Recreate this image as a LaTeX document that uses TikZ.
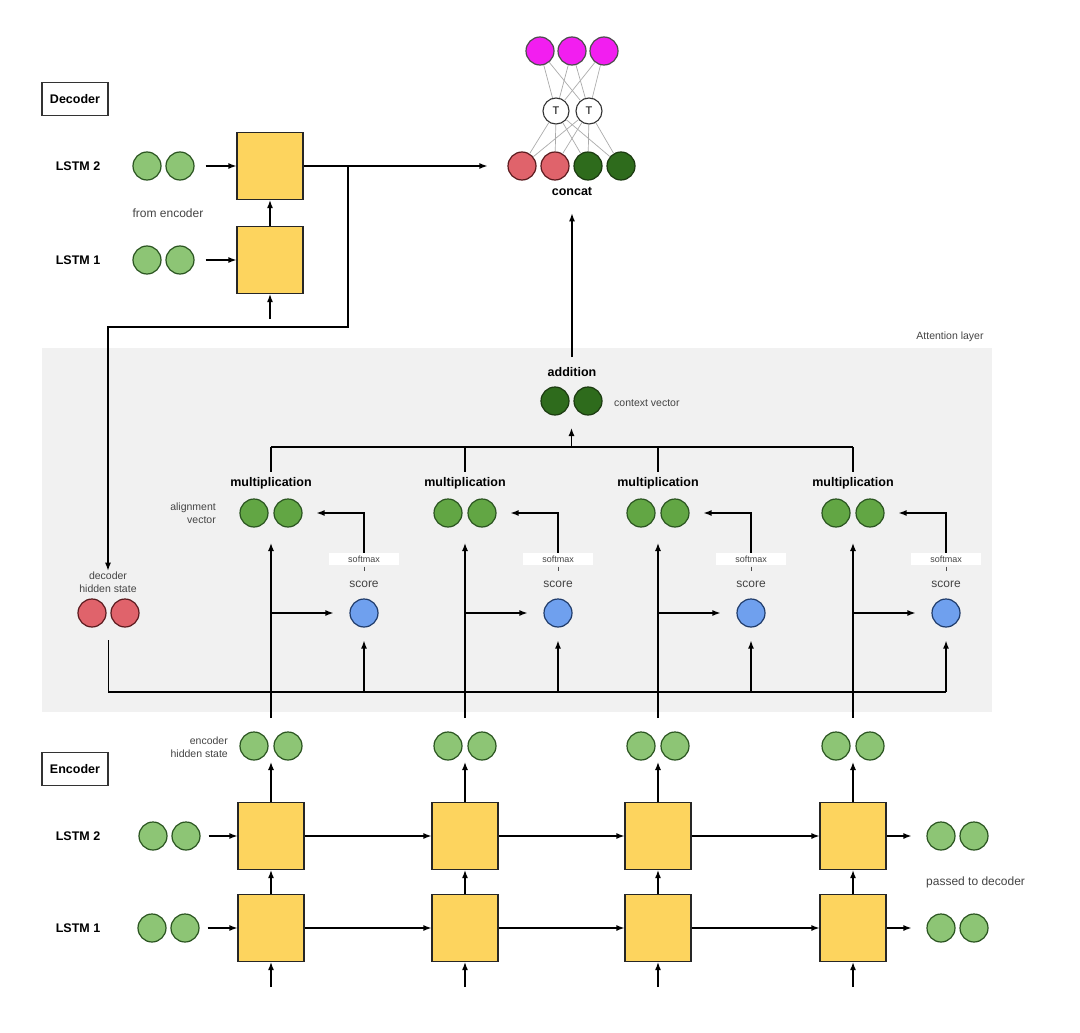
\documentclass[tikz,border=0pt]{standalone}
\usepackage{fontspec}
\setmainfont{Liberation Sans}
\usetikzlibrary{arrows.meta,calc}
\definecolor{boxyellow}{HTML}{FDD45E}
\definecolor{lgreen}{HTML}{8DC575}
\definecolor{lgreenb}{HTML}{2A5420}
\definecolor{mgreen}{HTML}{62A644}
\definecolor{dgreen}{HTML}{2E6B1C}
\definecolor{dgreenb}{HTML}{1B3A10}
\definecolor{cred}{HTML}{E0636B}
\definecolor{credb}{HTML}{5A1A1E}
\definecolor{cblue}{HTML}{6FA0EE}
\definecolor{cblueb}{HTML}{1F3B6A}
\definecolor{cmag}{HTML}{F21EF0}
\definecolor{attbg}{HTML}{F1F1F1}
\definecolor{txtgray}{HTML}{444444}
\begin{document}
\begin{tikzpicture}[x=1pt,y=-1pt,
  arr/.style={line width=1.3pt,-{Latex[length=8pt,width=6pt]}},
  ln/.style={line width=1.3pt},
  web/.style={line width=0.7pt,draw=gray!65},
  ybox/.style={draw=black!85,line width=1.2pt,fill=boxyellow,minimum width=66pt,minimum height=67pt,inner sep=0pt},
  crc/.style={circle,line width=1.2pt,minimum size=28pt,inner sep=0pt},
  gc/.style={crc,draw=lgreenb,fill=lgreen},
  mc/.style={crc,draw=lgreenb,fill=mgreen},
  dc/.style={crc,draw=dgreenb,fill=dgreen},
  rc/.style={crc,draw=credb,fill=cred},
  bc/.style={crc,draw=cblueb,fill=cblue},
  pc/.style={crc,draw=black!70,fill=cmag},
  tc/.style={circle,line width=1.1pt,draw=black!80,fill=white,minimum size=26pt,inner sep=0pt,font=\fontsize{11}{13}\selectfont},
  bold/.style={font=\bfseries\fontsize{12.5}{15}\selectfont,inner sep=1pt},
  mid/.style={font=\fontsize{12}{14}\selectfont,text=txtgray,inner sep=1pt},
  small/.style={font=\fontsize{10.5}{12.5}\selectfont,text=txtgray,inner sep=1pt},
  tiny/.style={font=\fontsize{9}{10}\selectfont,text=txtgray,fill=white,minimum width=70pt,minimum height=12pt,inner sep=0pt},
  titlebox/.style={draw=black!80,line width=1.1pt,minimum width=66pt,minimum height=33pt,inner sep=0pt,font=\bfseries\fontsize{12.5}{15}\selectfont}
]
\useasboundingbox (0,0) rectangle (1080,1033);
\fill[white] (0,0) rectangle (1080,1033);
% attention layer background
\fill[attbg] (42,348) rectangle (992,712);
\node[small] (attl) at (950,337) {Attention layer};

% ---------------- Decoder ----------------
\node[titlebox] (dec) at (75,99) {Decoder};
\node[bold] (dl2) at (78,166) {LSTM 2};
\node[bold] (dl1) at (78,260) {LSTM 1};
\node[gc] (dc2a) at (147,166) {};
\node[gc] (dc2b) at (180,166) {};
\node[gc] (dc1a) at (147,260) {};
\node[gc] (dc1b) at (180,260) {};
\node[mid] (fromenc) at (168,213) {from encoder};
\node[ybox] (db2) at (270,166) {};
\node[ybox] (db1) at (270,260) {};
\coordinate (din) at (270,319);
\draw[arr,shorten <=11pt] (dc2b.east) -- (db2.west);
\draw[arr,shorten <=11pt] (dc1b.east) -- (db1.west);
\draw[arr] (db1.north) -- (db2.south);
\draw[arr] (din) -- (db1.south);

% ---------------- Concat / output ----------------
\node[pc] (p1) at (540,51) {};
\node[pc] (p2) at (572,51) {};
\node[pc] (p3) at (604,51) {};
\node[tc] (t1) at (556,111) {T};
\node[tc] (t2) at (589,111) {T};
\node[rc] (c1) at (522,166) {};
\node[rc] (c2) at (555,166) {};
\node[dc] (c3) at (588,166) {};
\node[dc] (c4) at (621,166) {};
\foreach \p in {p1,p2,p3}{\foreach \t in {t1,t2}{\draw[web] (\p) -- (\t);}}
\foreach \t in {t1,t2}{\foreach \c in {c1,c2,c3,c4}{\draw[web] (\t) -- (\c);}}
\node[bold] (concat) at (572,191) {concat};
\draw[arr,shorten >=20pt] (db2.east) -- (c1.west);

% decoder hidden state path
\coordinate (br) at (348,166);
\coordinate (kink) at (108,327);
\node[small,align=center] (dhlbl) at (108,582) {decoder\\hidden state};
\node[rc] (dh1) at (92,613) {};
\node[rc] (dh2) at (125,613) {};
\coordinate (dhm) at ($(dh1)!0.5!(dh2)$);
\draw[arr] (br) |- (kink) -- (dhlbl.north);

% ---------------- Attention ----------------
\node[bold] (add) at (572,372) {addition};
\node[dc] (x1) at (555,401) {};
\node[dc] (x2) at (588,401) {};
\coordinate (ctxm) at ($(x1)!0.5!(x2)$);
\node[small,anchor=west] (ctxl) at (613,403) {context vector};
\draw[arr,shorten <=9pt,shorten >=17pt] (add.north) -- (concat.south);
\coordinate (busL) at (271,447);
\coordinate (busR) at (853,447);
\coordinate (busc) at (571.5,447);
\draw[ln] (busL) -- (busR);
\draw[arr,shorten >=27pt] (busc) -- (ctxm);

\node[small,align=right,anchor=east] (alv) at (217,513) {alignment\\vector};
\node[small,align=right,anchor=east] (ehs) at (229,747) {encoder\\hidden state};

\foreach \i/\X in {1/271,2/465,3/658,4/853}{
  \node[bold] (mul\i) at (\X,483) {multiplication};
  \node[mc] (aa\i) at (\X-17,513) {};
  \node[mc] (ab\i) at (\X+17,513) {};
  \coordinate (am\i) at (\X,513);
  \coordinate (bt\i) at (\X,447);
  \draw[ln,shorten >=4pt] (bt\i) -- (mul\i.north);
  \node[tiny] (sm\i) at (\X+93,559) {softmax};
  \node[mid] (scl\i) at (\X+93,584) {score};
  \node[bc] (s\i) at (\X+93,613) {};
  \draw[line width=0.8pt,draw=black!70] (\X+93,566.5) -- (\X+93,571);
  \draw[arr,shorten >=14pt] (sm\i.north) |- (ab\i.east);
  \coordinate (hs\i) at (\X,613);
  \draw[arr,shorten >=16pt] (hs\i) -- (s\i);
  \coordinate (bl\i) at (\X+93,692);
  \draw[arr,shorten >=13pt] (bl\i) -- (s\i);
  % encoder
  \node[gc] (ha\i) at (\X-17,746) {};
  \node[gc] (hb\i) at (\X+17,746) {};
  \coordinate (hm\i) at (\X,746);
  \coordinate (hv\i) at (\X,718);
  \draw[arr,shorten >=30pt] (hv\i) -- (am\i);
  \node[ybox] (e2\i) at (\X,836) {};
  \node[ybox] (e1\i) at (\X,928) {};
  \draw[arr,shorten >=16pt] (e2\i.north) -- (hm\i);
  \draw[arr] (e1\i.north) -- (e2\i.south);
  \coordinate (ein\i) at (\X,987);
  \draw[arr] (ein\i) -- (e1\i.south);
}
\draw[ln,shorten <=27pt] (dhm) |- (bl4);

% ---------------- Encoder ----------------
\node[titlebox] (enc) at (75,769) {Encoder};
\node[bold] (el2) at (78,836) {LSTM 2};
\node[bold] (el1) at (78,928) {LSTM 1};
\node[gc] (i2a) at (153,836) {};
\node[gc] (i2b) at (186,836) {};
\node[gc] (i1a) at (152,928) {};
\node[gc] (i1b) at (185,928) {};
\draw[arr,shorten <=8pt] (i2b.east) -- (e21.west);
\draw[arr,shorten <=8pt] (i1b.east) -- (e11.west);
\foreach \i/\j in {1/2,2/3,3/4}{
  \draw[arr] (e2\i.east) -- (e2\j.west);
  \draw[arr] (e1\i.east) -- (e1\j.west);
}
\node[gc] (o2a) at (941,836) {};
\node[gc] (o2b) at (974,836) {};
\node[gc] (o1a) at (941,928) {};
\node[gc] (o1b) at (974,928) {};
\draw[arr,shorten >=15pt] (e24.east) -- (o2a.west);
\draw[arr,shorten >=15pt] (e14.east) -- (o1a.west);
\node[mid,anchor=west] (ptd) at (925,882) {passed to decoder};
\end{tikzpicture}
\end{document}
